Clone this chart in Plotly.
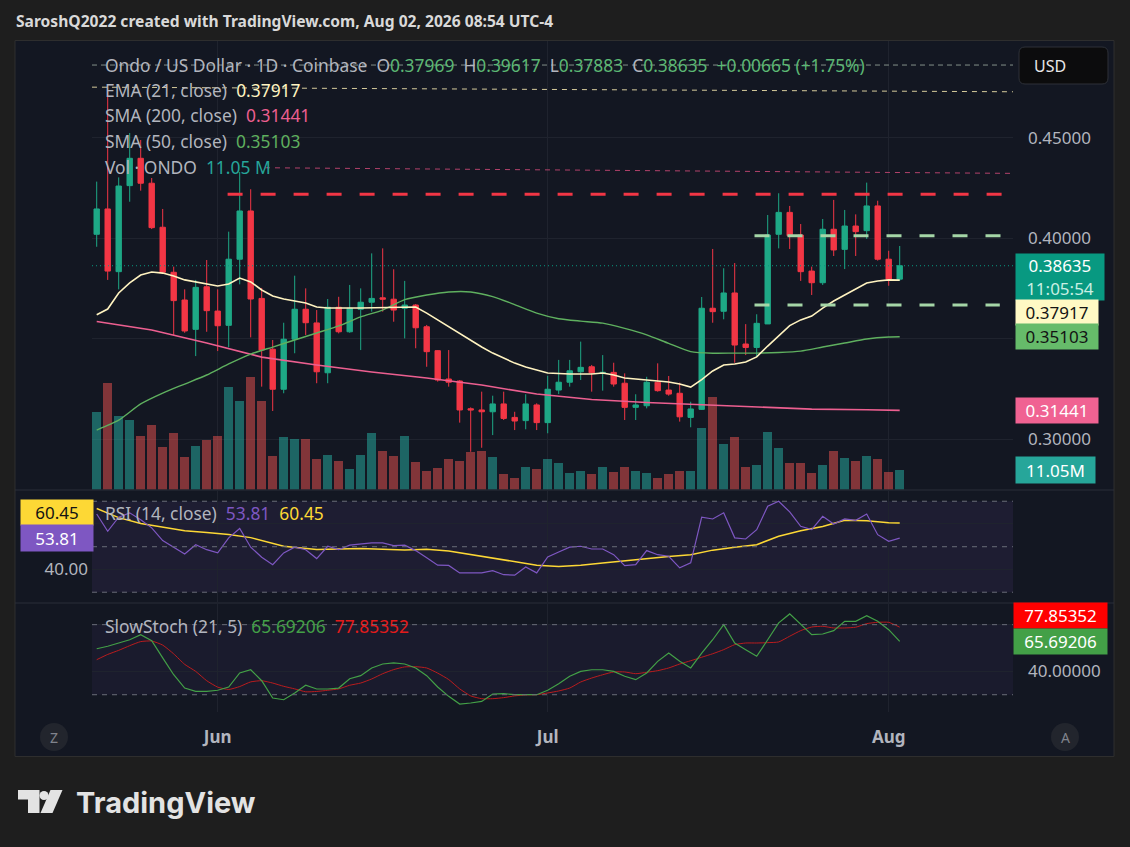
import plotly.graph_objects as go
import pandas as pd

W, H = 1130, 847
FONT = "Noto Sans"

# ---------------- data ----------------
start_date = "2026-05-21"
opens = [0.4020, 0.4146, 0.3834, 0.4262, 0.4398, 0.4274, 0.4055, 0.3831, 0.3693, 0.3547,
         0.3759, 0.3638, 0.3567, 0.3896, 0.4136, 0.3701, 0.3448, 0.3249, 0.3498, 0.3647,
         0.3579, 0.3331, 0.3657, 0.3535, 0.3647, 0.3682, 0.3704, 0.3697, 0.3652, 0.3668,
         0.3560, 0.3441, 0.3300, 0.3290, 0.3152, 0.3146, 0.3137, 0.3176, 0.3109, 0.3093,
         0.3171, 0.3083, 0.3245, 0.3284, 0.3336, 0.3361, 0.3328, 0.3333, 0.3279, 0.3159,
         0.3167, 0.3284, 0.3245, 0.3229, 0.3109, 0.3149, 0.3652, 0.3637, 0.3728, 0.3474,
         0.3457, 0.3574, 0.4020, 0.4129, 0.4016, 0.3837, 0.3779, 0.4045, 0.3945, 0.4061,
         0.4038, 0.4161, 0.3896, 0.37969]
highs = [0.4282, 0.4738, 0.4303, 0.4524, 0.4489, 0.4300, 0.4146, 0.3859, 0.3746, 0.3793,
         0.3892, 0.3746, 0.4033, 0.4330, 0.4244, 0.3753, 0.3494, 0.3580, 0.3814, 0.3751,
         0.3643, 0.3698, 0.3709, 0.3768, 0.3751, 0.3925, 0.3950, 0.3846, 0.3788, 0.3673,
         0.3569, 0.3444, 0.3444, 0.3295, 0.3159, 0.3237, 0.3217, 0.3237, 0.3137, 0.3224,
         0.3179, 0.3316, 0.3395, 0.3395, 0.3486, 0.3370, 0.3419, 0.3381, 0.3328, 0.3224,
         0.3311, 0.3378, 0.3315, 0.3282, 0.3187, 0.3708, 0.3947, 0.3851, 0.3877, 0.3573,
         0.3622, 0.4116, 0.4224, 0.4161, 0.4071, 0.3859, 0.4096, 0.4191, 0.4141, 0.4119,
         0.4277, 0.4187, 0.3938, 0.39617]
lows = [0.3958, 0.3793, 0.3746, 0.4182, 0.4237, 0.4046, 0.3826, 0.3519, 0.3530, 0.3414,
        0.3535, 0.3439, 0.3458, 0.3771, 0.3507, 0.3262, 0.3141, 0.3229, 0.3428, 0.3519,
        0.3279, 0.3279, 0.3527, 0.3530, 0.3444, 0.3635, 0.3635, 0.3585, 0.3502, 0.3453,
        0.3361, 0.3287, 0.3262, 0.3083, 0.2938, 0.2958, 0.3021, 0.3096, 0.3046, 0.3050,
        0.3046, 0.3030, 0.3225, 0.3262, 0.3295, 0.3237, 0.3242, 0.3262, 0.3096, 0.3096,
        0.3154, 0.3237, 0.3217, 0.3088, 0.3060, 0.3146, 0.3580, 0.3597, 0.3381, 0.3419,
        0.3409, 0.3574, 0.3950, 0.3947, 0.3788, 0.3718, 0.3768, 0.3912, 0.3847, 0.3912,
        0.3997, 0.3889, 0.3764, 0.37883]
closes = [0.4146, 0.3837, 0.4260, 0.4398, 0.4274, 0.4053, 0.3831, 0.3690, 0.3539, 0.3756,
          0.3640, 0.3565, 0.3896, 0.4136, 0.3698, 0.3444, 0.3249, 0.3498, 0.3647, 0.3580,
          0.3336, 0.3657, 0.3535, 0.3652, 0.3682, 0.3701, 0.3697, 0.3643, 0.3668, 0.3555,
          0.3436, 0.3295, 0.3284, 0.3146, 0.3146, 0.3137, 0.3176, 0.3104, 0.3091, 0.3176,
          0.3083, 0.3249, 0.3284, 0.3341, 0.3358, 0.3331, 0.3333, 0.3275, 0.3159, 0.3171,
          0.3284, 0.3242, 0.3225, 0.3112, 0.3151, 0.3652, 0.3635, 0.3728, 0.3469, 0.3457,
          0.3577, 0.4016, 0.4129, 0.4013, 0.3834, 0.3779, 0.4045, 0.3942, 0.4061, 0.4033,
          0.4161, 0.3896, 0.37970, 0.38635]
volumes_m = [42.7, 58.7, 40.9, 38.7, 29.8, 35.9, 23.4, 31.1, 18.2, 24.3,
             27.1, 29.8, 56.5, 49.2, 62.0, 48.8, 18.8, 29.3, 28.0, 28.0,
             17.0, 19.3, 15.6, 11.1, 19.3, 31.1, 21.5, 18.8, 29.8, 15.1,
             10.1, 11.8, 16.7, 15.6, 20.6, 21.2, 17.8, 8.3, 6.2, 12.7,
             11.2, 17.1, 14.5, 9.0, 10.5, 8.3, 12.7, 9.6, 12.3, 10.1,
             9.0, 6.5, 8.3, 10.1, 10.1, 33.9, 51.0, 24.9, 28.9, 12.7,
             13.8, 31.7, 22.8, 14.5, 14.5, 9.0, 13.8, 21.5, 17.3, 16.0,
             18.4, 16.6, 9.9, 11.05]

ema_idx = [0, 1, 2, 3, 4, 5, 6, 7, 8, 10, 11, 12, 13, 14, 15, 16, 17, 18, 19, 20, 21, 24, 27, 29,
           30, 31, 32, 33, 34, 35, 36, 37, 38, 39, 40, 41, 43, 45, 46, 47, 48, 49, 50, 51, 52,
           53, 54, 55, 56, 57, 58, 59, 60, 61, 62, 63, 64, 65, 66, 67, 68, 69, 70, 71, 72, 73]
ema_vals = [0.3620, 0.3648, 0.3728, 0.3778, 0.3817, 0.3832, 0.3827, 0.3812, 0.3793, 0.3773,
            0.3763, 0.3773, 0.3802, 0.3783, 0.3743, 0.3713, 0.3698, 0.3688, 0.3678, 0.3658,
            0.3653, 0.3653, 0.3658, 0.3658, 0.3628, 0.3594, 0.3559, 0.3524, 0.3489, 0.3459,
            0.3429, 0.3404, 0.3379, 0.3360, 0.3345, 0.3330, 0.3325, 0.3325, 0.3330, 0.3320,
            0.3305, 0.3300, 0.3295, 0.3290, 0.3285, 0.3275, 0.3260, 0.3297, 0.3340, 0.3370,
            0.3375, 0.3385, 0.3410, 0.3464, 0.3514, 0.3566, 0.3594, 0.3613, 0.3653, 0.3688,
            0.3718, 0.3748, 0.3778, 0.3788, 0.3793, 0.37917]
sma50_idx = [0, 2, 4, 6, 8, 10, 12, 14, 16, 18, 20, 22, 24, 26, 28, 30, 32, 34, 36, 38,
             40, 42, 44, 46, 48, 50, 52, 54, 56, 58, 60, 62, 64, 66, 68, 70, 72, 73]
sma50_vals = [0.3046, 0.3095, 0.3176, 0.3230, 0.3275, 0.3320, 0.3375, 0.3424, 0.3459, 0.3494,
              0.3529, 0.3564, 0.3609, 0.3643, 0.3695, 0.3718, 0.3733, 0.3733, 0.3710, 0.3670,
              0.3628, 0.3600, 0.3588, 0.3578, 0.3552, 0.3520, 0.3477, 0.3436, 0.3428, 0.3429,
              0.3429, 0.3432, 0.3439, 0.3459, 0.3479, 0.3499, 0.3509, 0.35103]
sma200_idx = [0, 5, 10, 15, 20, 25, 30, 35, 40, 45, 50, 55, 60, 65, 70, 73]
sma200_vals = [0.3586, 0.3544, 0.3479, 0.3409, 0.3370, 0.3335, 0.3305, 0.3270, 0.3225, 0.3198,
               0.3183, 0.3171, 0.3162, 0.3150, 0.3147, 0.31441]

rsi_vals = [64.4, 56.8, 63.0, 64.9, 61.9, 58.3, 52.7, 49.8, 46.8, 50.9,
            48.7, 47.3, 53.9, 58.0, 49.8, 45.4, 42.1, 47.3, 49.8, 48.7,
            44.8, 50.2, 48.7, 50.7, 51.2, 51.7, 51.7, 50.5, 50.7, 48.3,
            45.1, 41.9, 41.8, 38.5, 38.5, 38.5, 39.5, 37.7, 37.5, 41.1,
            38.5, 45.5, 47.7, 49.8, 50.2, 49.0, 49.0, 46.5, 41.7, 42.1,
            48.3, 46.5, 45.8, 40.7, 42.9, 63.0, 62.2, 64.9, 53.9, 53.4,
            57.5, 67.8, 70.0, 65.3, 59.0, 57.5, 63.4, 60.0, 62.2, 61.6,
            64.4, 55.3, 52.4, 53.81]
rsi_ma_idx = [0, 2, 4, 6, 8, 10, 12, 14, 17, 20, 24, 28, 30, 32, 34, 36, 38, 40, 42, 44,
              46, 48, 50, 52, 54, 56, 58, 60, 62, 64, 66, 68, 70, 72, 73]
rsi_ma_vals = [66.8, 62.8, 60.2, 58.5, 57.0, 56.3, 55.4, 54.0, 50.2, 48.8, 49.2, 48.6, 48.9,
               48.1, 46.6, 45.2, 43.6, 41.9, 41.3, 41.9, 42.9, 43.9, 44.8, 45.7, 46.5, 48.5,
               49.8, 50.9, 54.6, 57.0, 58.9, 61.6, 61.4, 60.5, 60.45]

stoch_k = [59.4, 61.5, 64.3, 67.1, 71.4, 66.3, 51.5, 37.1, 25.7, 22.9,
           22.9, 23.8, 26.6, 38.6, 41.4, 32.0, 17.2, 15.7, 21.5, 28.1,
           24.9, 24.9, 25.7, 33.7, 36.3, 42.9, 46.3, 47.2, 46.3, 42.9,
           36.3, 26.6, 18.6, 12.0, 12.9, 14.3, 20.6, 20.9, 20.0, 20.0,
           20.0, 23.8, 29.3, 35.8, 40.0, 41.4, 41.4, 40.0, 35.8, 32.9,
           38.6, 48.6, 55.7, 48.6, 42.9, 55.7, 67.1, 80.0, 64.3, 58.6,
           52.9, 67.1, 81.5, 89.2, 80.6, 71.4, 72.0, 74.9, 82.9, 82.9,
           87.7, 82.9, 75.7, 65.69206]
stoch_d = [50.0, 54.5, 58.0, 62.0, 65.5, 66.0, 62.5, 55.0, 46.0, 40.0,
           32.0, 26.5, 24.5, 27.0, 31.0, 32.0, 30.0, 27.2, 25.0, 22.5,
           22.8, 23.8, 25.0, 28.1, 30.0, 33.5, 38.0, 41.5, 43.8, 44.0,
           42.9, 38.5, 33.0, 25.0, 19.0, 16.6, 16.6, 17.5, 19.0, 19.8,
           20.0, 21.5, 23.2, 25.7, 30.9, 34.3, 37.1, 39.5, 39.5, 38.0,
           39.2, 40.6, 42.9, 46.3, 49.1, 52.1, 55.1, 58.6, 62.9, 64.3,
           64.3, 64.6, 65.2, 70.1, 74.9, 78.0, 78.6, 77.2, 77.2, 77.8,
           80.9, 82.0, 82.0, 77.85352]

month_ticks = ["2026-06-01", "2026-07-01", "2026-08-01"]
month_labels = ["Jun", "Jul", "Aug"]
price_ticks = [0.30, 0.35, 0.40, 0.45]
price_tick_text = ["0.30000", "", "0.40000", "0.45000"]

# drawn trend / horizontal lines (day index from start, price)
draw_x0 = [-0.43, -0.43, 15.3, 11.9, 59.8, 59.8]
draw_x1 = [83.3, 83.3, 83.3, 82.4, 83.2, 82.1]
draw_p0 = [0.4862, 0.4752, 0.4351, 0.4219, 0.4013, 0.3668]
draw_p1 = [0.4862, 0.4729, 0.4323, 0.4219, 0.4013, 0.3668]

symbol_name = "Ondo / US Dollar · 1D · Coinbase"
countdown = "11:05:54"
header = "SaroshQ2022 created with TradingView.com, Aug 02, 2026 08:54 UTC-4"

# ---------------- styling ----------------
UP, DOWN = "#1ea886", "#f23645"
OUTER_BG, CHART_BG = "#1e1e1e", "#131722"
GRID = "#1f232e"
TXT = "#b2b5be"
C_EMA, C_S50, C_S200 = "#fff3c0", "#5fb05f", "#ec5f90"
C_RSI, C_RSIMA = "#7e57c2", "#fdd835"
C_K, C_D = "#43a047", "#e31b1b"
VALG = "#5cb874"
LEG = 17.4
AX = 17
draw_colors = ["#84908a", "#d6cb9c", "#b2426b", DOWN, "#a5d6a7", "#a5d6a7"]
draw_widths = [1, 1, 1, 3, 3, 3]
draw_dash = ["5px,4px", "5px,5px", "5px,5px", "15px,18px", "15px,18px", "15px,18px"]


def X(px):
    return px / W


def Y(py):
    return 1 - py / H


t0 = pd.Timestamp(start_date)


def day(i):
    return t0 + pd.Timedelta(days=float(i))


dates = [day(i) for i in range(len(closes))]
vol = [v * 1e6 for v in volumes_m]
vol_colors = ["rgba(38,166,154,0.55)" if c >= o else "rgba(239,83,80,0.5)"
              for o, c in zip(opens, closes)]

fig = go.Figure()

fig.add_trace(go.Bar(x=dates, y=vol, marker=dict(color=vol_colors, line=dict(width=0)),
                     width=0.82 * 86400000, xaxis="x", yaxis="y", hoverinfo="skip"))
fig.add_trace(go.Candlestick(
    x=dates, open=opens, high=highs, low=lows, close=closes, xaxis="x", yaxis="y2",
    increasing=dict(line=dict(color=UP, width=1), fillcolor=UP),
    decreasing=dict(line=dict(color=DOWN, width=1), fillcolor=DOWN),
    whiskerwidth=0, hoverinfo="skip"))
fig.add_trace(go.Scatter(x=[day(i) for i in sma200_idx], y=sma200_vals, mode="lines",
                         line=dict(color=C_S200, width=1.6), xaxis="x", yaxis="y2"))
fig.add_trace(go.Scatter(x=[day(i) for i in sma50_idx], y=sma50_vals, mode="lines",
                         line=dict(color=C_S50, width=1.4, shape="spline", smoothing=0.6),
                         xaxis="x", yaxis="y2"))
fig.add_trace(go.Scatter(x=[day(i) for i in ema_idx], y=ema_vals, mode="lines",
                         line=dict(color=C_EMA, width=1.6), xaxis="x", yaxis="y2"))

fig.add_trace(go.Scatter(x=[day(i) for i in rsi_ma_idx], y=rsi_ma_vals, mode="lines",
                         line=dict(color=C_RSIMA, width=1.5), xaxis="x2", yaxis="y3"))
fig.add_trace(go.Scatter(x=dates, y=rsi_vals, mode="lines",
                         line=dict(color=C_RSI, width=1.2), xaxis="x2", yaxis="y3"))

fig.add_trace(go.Scatter(x=dates, y=stoch_d, mode="lines",
                         line=dict(color=C_D, width=1, shape="spline", smoothing=0.5),
                         opacity=0.8, xaxis="x3", yaxis="y4"))
fig.add_trace(go.Scatter(x=dates, y=stoch_k, mode="lines",
                         line=dict(color=C_K, width=1.2), xaxis="x3", yaxis="y4"))

# ---------------- axes ----------------
xdom = [X(92), X(1013)]
xr = [day(-0.427), day(83.3)]
main_dom = [Y(489.5), Y(41)]
rsi_dom = [Y(602), Y(491)]
sto_dom = [Y(712), Y(604)]

xcommon = dict(domain=xdom, type="date", range=xr, showgrid=True, gridcolor=GRID, gridwidth=1,
               tickvals=month_ticks, zeroline=False, showline=False, ticks="",
               rangeslider=dict(visible=False), fixedrange=True)
fig.update_layout(
    xaxis=dict(xcommon, anchor="y", showticklabels=False),
    xaxis2=dict(xcommon, anchor="y3", showticklabels=False, matches="x"),
    xaxis3=dict(xcommon, anchor="y4", showticklabels=True, matches="x",
                ticktext=month_labels,
                tickfont=dict(family=FONT, size=17, color=TXT, weight="bold"),
                ticklabelstandoff=13),
    yaxis=dict(domain=main_dom, range=[0, 248e6], visible=False, fixedrange=True),
    yaxis2=dict(overlaying="y", anchor="x", side="right", range=[0.27503, 0.49816],
                tickvals=price_ticks, ticktext=price_tick_text, showgrid=True,
                gridcolor=GRID, zeroline=False, ticks="", ticklabelstandoff=14,
                tickfont=dict(family=FONT, size=AX, color=TXT), fixedrange=True),
    yaxis3=dict(domain=rsi_dom, anchor="x2", side="left", range=[25.7, 74.5],
                tickvals=[40, 60], ticktext=["40.00", ""], showgrid=True, gridcolor=GRID,
                zeroline=False, ticks="", ticklabelstandoff=3,
                tickfont=dict(family=FONT, size=AX, color=TXT), fixedrange=True),
    yaxis4=dict(domain=sto_dom, anchor="x3", side="right", range=[5.2, 97.7],
                tickvals=[40, 80], ticktext=["40.00000", ""], showgrid=True, gridcolor=GRID,
                zeroline=False, ticks="", ticklabelstandoff=14,
                tickfont=dict(family=FONT, size=AX, color=TXT), fixedrange=True),
)

# ---------------- shapes ----------------
shapes = []
shapes.append(dict(type="rect", xref="paper", yref="paper", x0=X(15), x1=X(1114),
                   y0=Y(756.5), y1=Y(40.5), fillcolor=CHART_BG,
                   line=dict(color="#2e2e2e", width=1), layer="below"))
for py in (490, 603):
    shapes.append(dict(type="line", xref="paper", yref="paper", x0=X(15), x1=X(1114),
                       y0=Y(py), y1=Y(py), line=dict(color="#2a2e39", width=1)))
shapes.append(dict(type="rect", xref="x2 domain", yref="y3", x0=0, x1=1, y0=30, y1=70,
                   fillcolor="rgba(126,87,194,0.10)", line=dict(width=0), layer="below"))
for lv in (70, 50, 30):
    shapes.append(dict(type="line", xref="x2 domain", yref="y3", x0=0, x1=1, y0=lv, y1=lv,
                       line=dict(color="#6a6d78", width=1, dash="5px,5px")))
shapes.append(dict(type="rect", xref="x3 domain", yref="y4", x0=0, x1=1, y0=20, y1=80,
                   fillcolor="rgba(126,87,194,0.07)", line=dict(width=0), layer="below"))
for lv in (80, 20):
    shapes.append(dict(type="line", xref="x3 domain", yref="y4", x0=0, x1=1, y0=lv, y1=lv,
                       line=dict(color="#6a6d78", width=1, dash="5px,5px")))
for a, b, p, q, col, wd, ds in zip(draw_x0, draw_x1, draw_p0, draw_p1,
                                   draw_colors, draw_widths, draw_dash):
    shapes.append(dict(type="line", xref="x", yref="y2", x0=day(a), x1=day(b), y0=p, y1=q,
                       line=dict(color=col, width=wd, dash=ds)))
shapes.append(dict(type="line", xref="x domain", yref="y2", x0=0, x1=1,
                   y0=closes[-1], y1=closes[-1],
                   line=dict(color="#089981", width=1, dash="1px,3px")))


def rounded(x0, y0, x1, y1, r):
    a, b, c, d = X(x0), X(x1), Y(y0), Y(y1)
    rx, ry = r / W, r / H
    return (f"M{a+rx},{c} L{b-rx},{c} Q{b},{c} {b},{c-ry} L{b},{d+ry} Q{b},{d} {b-rx},{d} "
            f"L{a+rx},{d} Q{a},{d} {a},{d+ry} L{a},{c-ry} Q{a},{c} {a+rx},{c} Z")


shapes.append(dict(type="path", xref="paper", yref="paper", path=rounded(1019, 47, 1108, 84, 6),
                   fillcolor="#0c0c0d", line=dict(color="#2e3138", width=1)))
for cx in (54, 1065):
    shapes.append(dict(type="circle", xref="paper", yref="paper", x0=X(cx - 14), x1=X(cx + 14),
                       y0=Y(751), y1=Y(723), fillcolor="#22252d", line=dict(width=0)))


def poly(pts):
    return "M" + " L".join(f"{X(px)},{Y(py)}" for px, py in pts) + " Z"


LOGO = "#e3e3e3"
shapes.append(dict(type="path", xref="paper", yref="paper",
                   path=poly([(18, 790), (39.5, 790), (39.5, 813), (28, 813), (28, 799.5), (18, 799.5)]),
                   fillcolor=LOGO, line=dict(width=0)))
shapes.append(dict(type="circle", xref="paper", yref="paper", x0=X(39.5), x1=X(48.5),
                   y0=Y(800), y1=Y(791), fillcolor=LOGO, line=dict(width=0)))
shapes.append(dict(type="path", xref="paper", yref="paper",
                   path=poly([(50.5, 790), (62.5, 790), (52.5, 813), (40.5, 813)]),
                   fillcolor=LOGO, line=dict(width=0)))

# ---------------- annotations ----------------
ann = []


def txt(text, px, py, size=LEG, color=TXT, xanchor="left", weight="normal", family=FONT):
    ann.append(dict(text=text, x=X(px), y=Y(py), xref="paper", yref="paper",
                    xanchor=xanchor, yanchor="middle", showarrow=False,
                    font=dict(family=family, size=size, color=color, weight=weight)))


def span(t, c):
    return f"<span style='color:{c}'>{t}</span>"


txt(header, 14, 21, size=15.6, color="#d9d9d9", weight="bold")

o, h, l, c = opens[-1], highs[-1], lows[-1], closes[-1]
chg = c - closes[-2]
pct = chg / closes[-2] * 100
row1 = (f"{symbol_name}\u00a0 O{span(f'{o:.5f}', VALG)}\u00a0 H{span(f'{h:.5f}', VALG)}"
        f"\u00a0 L{span(f'{l:.5f}', VALG)}\u00a0 C{span(f'{c:.5f}', VALG)}"
        f"\u00a0 {span(f'{chg:+.5f} ({pct:+.2f}%)', VALG)}")
txt(row1, 103, 65)
txt(f"EMA (21, close)\u00a0 {span(f'{ema_vals[-1]:.5f}', C_EMA)}", 103, 90)
txt(f"SMA (200, close)\u00a0 {span(f'{sma200_vals[-1]:.5f}', C_S200)}", 103, 115)
txt(f"SMA (50, close)\u00a0 {span(f'{sma50_vals[-1]:.5f}', C_S50)}", 103, 141)
txt(f"Vol · ONDO\u00a0 {span(f'{volumes_m[-1]:.2f} M', '#26a69a')}", 103, 167)
txt(f"RSI (14, close)\u00a0 {span(f'{rsi_vals[-1]:.2f}', C_RSI)}\u00a0 "
    f"{span(f'{rsi_ma_vals[-1]:.2f}', C_RSIMA)}", 103, 513)
txt(f"SlowStoch (21, 5)\u00a0 {span(f'{stoch_k[-1]:.5f}', C_K)}\u00a0 "
    f"{span(f'{stoch_d[-1]:.5f}', C_D)}", 103, 626)

txt("USD", 1032, 66, size=16, color="#e8e8e8")
txt("Z", 54, 737, size=14, color="#80838c", xanchor="center")
txt("A", 1065, 737, size=14, color="#80838c", xanchor="center")
txt("TradingView", 74, 802, size=29, color=LOGO, weight="bold", family="Inter")


def label(text, yval, yref, bg, fg, x0, w, h, yshift=0, yanchor="middle"):
    ann.append(dict(text=text, x=X(x0), xref="paper", xanchor="left", y=yval, yref=yref,
                    yanchor=yanchor, yshift=yshift, showarrow=False, bgcolor=bg,
                    font=dict(family=FONT, size=AX, color=fg), width=w - 4, height=h - 4,
                    borderpad=2, align="center", valign="middle"))


label(f"{c:.5f}<br>{span(countdown, '#c9efe3')}", c, "y2", "#089981", "#ffffff",
      1015, 88, 46, yshift=12.5, yanchor="top")
label(f"{ema_vals[-1]:.5f}", ema_vals[-1], "y2", "#fff9c4", "#131313", 1015, 82, 25, yshift=-32)
label(f"{sma50_vals[-1]:.5f}", sma50_vals[-1], "y2", "#66bb6a", "#131313", 1015, 82, 25)
label(f"{sma200_vals[-1]:.5f}", sma200_vals[-1], "y2", "#f06292", "#ffffff", 1015, 82, 25)
label(f"{volumes_m[-1]:.2f}M", vol[-1], "y", "#26a69a", "#ffffff", 1015, 79, 26)
label(f"{rsi_ma_vals[-1]:.2f}", rsi_ma_vals[-1], "y3", "#fdd835", "#131313", 20, 72, 25, yshift=10.5)
label(f"{rsi_vals[-1]:.2f}", rsi_vals[-1], "y3", "#7e57c2", "#ffffff", 20, 72, 26)
label(f"{stoch_d[-1]:.5f}", stoch_d[-1], "y4", "#ff0000", "#ffffff", 1013, 93, 25, yshift=11.7)
label(f"{stoch_k[-1]:.5f}", stoch_k[-1], "y4", "#43a047", "#ffffff", 1013, 93, 25)

fig.update_layout(
    width=W, height=H, margin=dict(l=0, r=0, t=0, b=0),
    paper_bgcolor=OUTER_BG, plot_bgcolor=CHART_BG, showlegend=False,
    shapes=shapes, annotations=ann, boxgap=0.3, bargap=0,
    font=dict(family=FONT, color=TXT),
)

fig.write_html("out.html", config={"displayModeBar": False},
               post_script="document.body.style.margin='0px';"
                           "document.body.style.overflow='hidden';"
                           "document.body.style.background='#1e1e1e';")
